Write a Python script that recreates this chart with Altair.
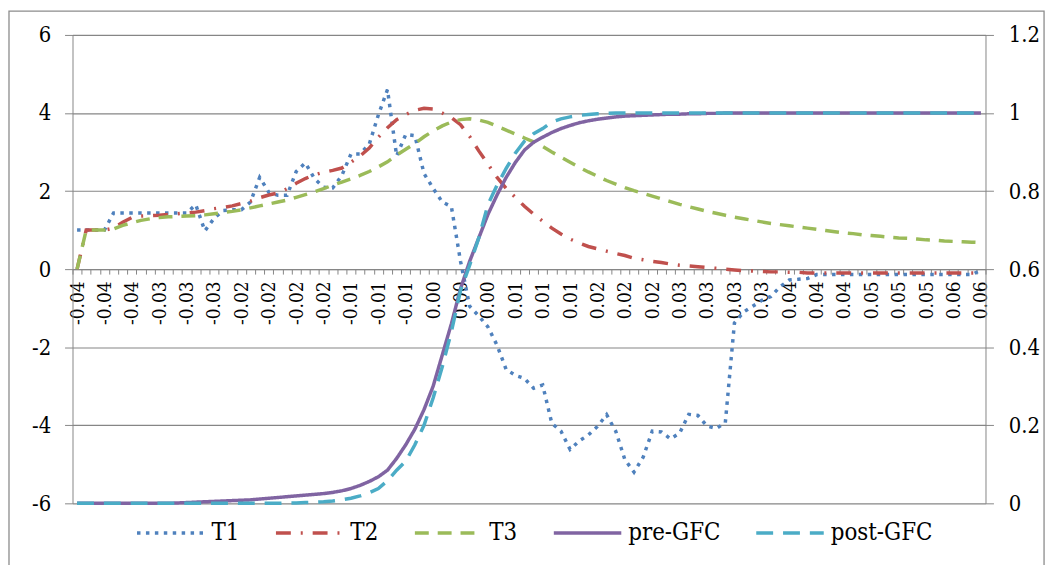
import altair as alt
import pandas as pd

# ---------------- data ----------------
x_labels = ["-0.04", "-0.04", "-0.04", "-0.03", "-0.03", "-0.03", "-0.02", "-0.02",
            "-0.02", "-0.02", "-0.01", "-0.01", "-0.01", "0.00", "0.00", "0.00",
            "0.01", "0.01", "0.01", "0.02", "0.02", "0.02", "0.03", "0.03", "0.03",
            "0.03", "0.04", "0.04", "0.04", "0.05", "0.05", "0.05", "0.06", "0.06"]

t1 = [1.0, 1.0, 1.0, 1.0, 1.44, 1.44, 1.44, 1.44, 1.44, 1.44,
      1.44, 1.44, 1.44, 1.65, 0.98, 1.3, 1.5, 1.52, 1.52, 1.72,
      2.35, 1.97, 1.89, 1.89, 2.5, 2.72, 2.32, 2.1, 2.08, 2.4,
      2.95, 2.95, 3.2, 3.95, 4.6, 2.9, 3.45, 3.42, 2.45, 2.07,
      1.72, 1.6, 0.2, -0.95, -1.2, -1.48, -1.95, -2.57, -2.72, -2.8,
      -3.05, -2.97, -3.95, -4.15, -4.62, -4.4, -4.25, -4.03, -3.73, -4.15,
      -4.88, -5.2, -4.82, -4.15, -4.17, -4.35, -4.2, -3.72, -3.75, -4.02,
      -4.08, -3.94, -1.38, -1.1, -0.95, -0.8, -0.7, -0.45, -0.28, -0.26,
      -0.24, -0.14, -0.14, -0.14, -0.14, -0.14, -0.14, -0.14, -0.14, -0.14,
      -0.14, -0.14, -0.14, -0.14, -0.14, -0.14, -0.14, -0.14, -0.14, -0.03]

t2 = [0.0, 1.0, 1.0, 1.0, 1.05, 1.2, 1.32, 1.36, 1.37, 1.38,
      1.4, 1.42, 1.44, 1.46, 1.5, 1.55, 1.58, 1.62, 1.68, 1.74,
      1.83, 1.9, 1.95, 2.06, 2.2, 2.32, 2.42, 2.48, 2.53, 2.59,
      2.74, 2.9, 3.1, 3.38, 3.62, 3.83, 3.96, 4.07, 4.12, 4.1,
      4.0, 3.88, 3.7, 3.4, 3.03, 2.69, 2.35, 2.07, 1.84, 1.61,
      1.41, 1.23, 1.05, 0.9, 0.77, 0.67, 0.58, 0.52, 0.46, 0.4,
      0.35, 0.28, 0.24, 0.2, 0.17, 0.13, 0.1, 0.08, 0.06, 0.04,
      0.02, 0.0, -0.02, -0.04, -0.05, -0.06, -0.07, -0.07, -0.08, -0.08,
      -0.1, -0.1, -0.1, -0.1, -0.1, -0.1, -0.1, -0.1, -0.1, -0.1,
      -0.1, -0.1, -0.1, -0.1, -0.1, -0.1, -0.1, -0.1, -0.1, -0.1]

t3 = [0.0, 1.0, 1.0, 1.0, 1.03, 1.12, 1.19, 1.25, 1.29, 1.32,
      1.34, 1.35, 1.36, 1.37, 1.39, 1.42, 1.45, 1.48, 1.52, 1.57,
      1.62, 1.67, 1.72, 1.77, 1.84, 1.91, 1.98, 2.06, 2.15, 2.23,
      2.31, 2.4, 2.5, 2.62, 2.75, 2.92, 3.07, 3.22, 3.39, 3.54,
      3.67, 3.77, 3.83, 3.85, 3.82, 3.76, 3.66, 3.56, 3.46, 3.36,
      3.26, 3.14, 3.0, 2.87, 2.74, 2.61, 2.49, 2.38, 2.27, 2.18,
      2.09, 2.01, 1.94, 1.87, 1.8, 1.73, 1.66, 1.6, 1.54, 1.48,
      1.43, 1.38, 1.33, 1.29, 1.25, 1.21, 1.17, 1.14, 1.11, 1.08,
      1.05, 1.02, 0.99, 0.96, 0.93, 0.91, 0.88, 0.86, 0.84, 0.82,
      0.8, 0.79, 0.77, 0.75, 0.74, 0.72, 0.71, 0.7, 0.69, 0.68]

pre_gfc = [0.0, 0.0, 0.0, 0.0, 0.0, 0.0, 0.0, 0.0, 0.0, 0.0,
           0.0, 0.001, 0.002, 0.003, 0.004, 0.005, 0.006, 0.007, 0.008, 0.009,
           0.011, 0.013, 0.015, 0.017, 0.019, 0.021, 0.023, 0.025, 0.028, 0.032,
           0.038, 0.046, 0.056, 0.068, 0.085, 0.115, 0.15, 0.19, 0.24, 0.3,
           0.38, 0.46, 0.55, 0.62, 0.68, 0.74, 0.79, 0.835, 0.873, 0.905,
           0.925, 0.938, 0.95, 0.96, 0.968, 0.975, 0.98, 0.984, 0.987, 0.99,
           0.992, 0.993, 0.994, 0.995, 0.996, 0.997, 0.997, 0.998, 0.998, 0.999,
           0.999, 1.0, 1.0, 1.0, 1.0, 1.0, 1.0, 1.0, 1.0, 1.0,
           1.0, 1.0, 1.0, 1.0, 1.0, 1.0, 1.0, 1.0, 1.0, 1.0,
           1.0, 1.0, 1.0, 1.0, 1.0, 1.0, 1.0, 1.0, 1.0, 1.0]

post_gfc = [0.0, 0.0, 0.0, 0.0, 0.0, 0.0, 0.0, 0.0, 0.0, 0.0,
            0.0, 0.0, 0.0, 0.0, 0.0, 0.0, 0.0, 0.0, 0.0, 0.0,
            0.0, 0.0, 0.0, 0.001, 0.001, 0.002, 0.003, 0.004, 0.006, 0.009,
            0.013, 0.019, 0.027, 0.038, 0.058, 0.085, 0.108, 0.15, 0.2, 0.27,
            0.35, 0.44, 0.545, 0.61, 0.68, 0.765, 0.815, 0.858, 0.897, 0.928,
            0.947, 0.96, 0.977, 0.985, 0.99, 0.994, 0.996, 0.998, 0.999, 1.0,
            1.0, 1.0, 1.0, 1.0, 1.0, 1.0, 1.0, 1.0, 1.0, 1.0,
            1.0, 1.0, 1.0, 1.0, 1.0, 1.0, 1.0, 1.0, 1.0, 1.0,
            1.0, 1.0, 1.0, 1.0, 1.0, 1.0, 1.0, 1.0, 1.0, 1.0,
            1.0, 1.0, 1.0, 1.0, 1.0, 1.0, 1.0, 1.0, 1.0, 1.0]

series_names = ["T1", "T2", "T3", "pre-GFC", "post-GFC"]
series_colors = ["#4F81BD", "#C0504D", "#9BBB59", "#8064A2", "#4BACC6"]
series_dashes = [[3.5, 5.5], [15, 10, 2, 10], [14, 9], [1, 0], [17, 10]]

left_ticks = [-6, -4, -2, 0, 2, 4, 6]
right_ticks = [0, 0.2, 0.4, 0.6, 0.8, 1.0, 1.2]

# ---------------- tables ----------------
n = len(t1)
idx = list(range(n))
left_df = pd.DataFrame({
    "idx": idx * 3,
    "series": ["T1"] * n + ["T2"] * n + ["T3"] * n,
    "left_value": t1 + t2 + t3,
})
right_df = pd.DataFrame({
    "idx": idx * 2,
    "series": ["pre-GFC"] * n + ["post-GFC"] * n,
    "prob": pre_gfc + post_gfc,
})

# ---------------- styling ----------------
W, H = 920, 472
FONT = "'DejaVu Serif Condensed', 'DejaVu Serif'"
GRAY = "#868686"

labels_js = "[" + ",".join("'" + s + "'" for s in x_labels) + "]"
label_expr = ("((datum.value + 0.5) % 3 == 0) ? " + labels_js +
              "[(datum.value + 0.5) / 3] : ''")

x_enc = alt.X(
    "idx:Q",
    scale=alt.Scale(domain=[-0.5, n - 0.5], nice=False, zero=False),
    axis=alt.Axis(
        values=[i - 0.5 for i in range(n + 1)],
        labelExpr=label_expr,
        labelAngle=270, labelAlign="right", labelBaseline="middle",
        labelOffset=W / n / 2,
        labelOverlap=False, labelFlush=False, labelBound=False,
        offset=-H / 2, tickSize=5, tickColor=GRAY, domainColor=GRAY,
        grid=False, labelFont=FONT, labelFontSize=19, labelPadding=7,
        labelColor="black", title=None,
    ),
)

legend_props = dict(
    title=None, orient="none", direction="horizontal", columns=5,
    legendX=63, legendY=466, symbolType="stroke", symbolSize=4624,
    symbolStrokeWidth=3.5, labelFont=FONT, labelFontSize=24,
    labelColor="black", columnPadding=29, labelOffset=5, padding=0,
)

color_enc = alt.Color(
    "series:N",
    scale=alt.Scale(domain=series_names, range=series_colors),
    legend=alt.Legend(**legend_props),
)
dash_enc = alt.StrokeDash(
    "series:N",
    scale=alt.Scale(domain=series_names, range=series_dashes),
    legend=alt.Legend(**legend_props),
)

frame = alt.Chart(pd.DataFrame({"k": [0]})).mark_rect(
    filled=False, stroke="#8c8c8c", strokeWidth=1.3
).encode(
    x=alt.value(-64), x2=alt.value(979), y=alt.value(-24), y2=alt.value(560)
)

left = alt.Chart(left_df).mark_line(strokeWidth=3.5).encode(
    x=x_enc,
    y=alt.Y(
        "left_value:Q",
        scale=alt.Scale(domain=[-6, 6], nice=False, zero=False),
        axis=alt.Axis(
            orient="left", values=left_ticks, labelExpr="datum.value + ''",
            grid=True, gridColor=GRAY, gridWidth=1.2, tickSize=8,
            tickColor=GRAY, domainColor=GRAY, labelFont=FONT,
            labelFontSize=22, labelPadding=14, labelColor="black", title=None,
        ),
    ),
    color=color_enc,
    strokeDash=dash_enc,
)

right = alt.Chart(right_df).mark_line(strokeWidth=3.5).encode(
    x=x_enc,
    y=alt.Y(
        "prob:Q",
        scale=alt.Scale(domain=[0, 1.2], nice=False, zero=False),
        axis=alt.Axis(
            orient="right", values=right_ticks, labelExpr="datum.value + ''",
            grid=False, tickSize=8, tickColor=GRAY, domainColor=GRAY,
            labelFont=FONT, labelFontSize=22, labelPadding=15,
            labelColor="black", title=None,
        ),
    ),
    color=color_enc,
    strokeDash=dash_enc,
)

chart = alt.layer(frame, left, right).resolve_scale(
    y="independent"
).properties(
    width=W, height=H,
    padding={"left": 65, "top": 25, "right": 66, "bottom": 60},
    autosize=alt.AutoSizeParams(type="none"),
    background="white",
).configure_view(strokeWidth=0).configure_legend(
    labelFont=FONT, labelFontSize=24, labelColor="black"
)

chart.save("out.html", embed_options={"renderer": "svg", "actions": False})
